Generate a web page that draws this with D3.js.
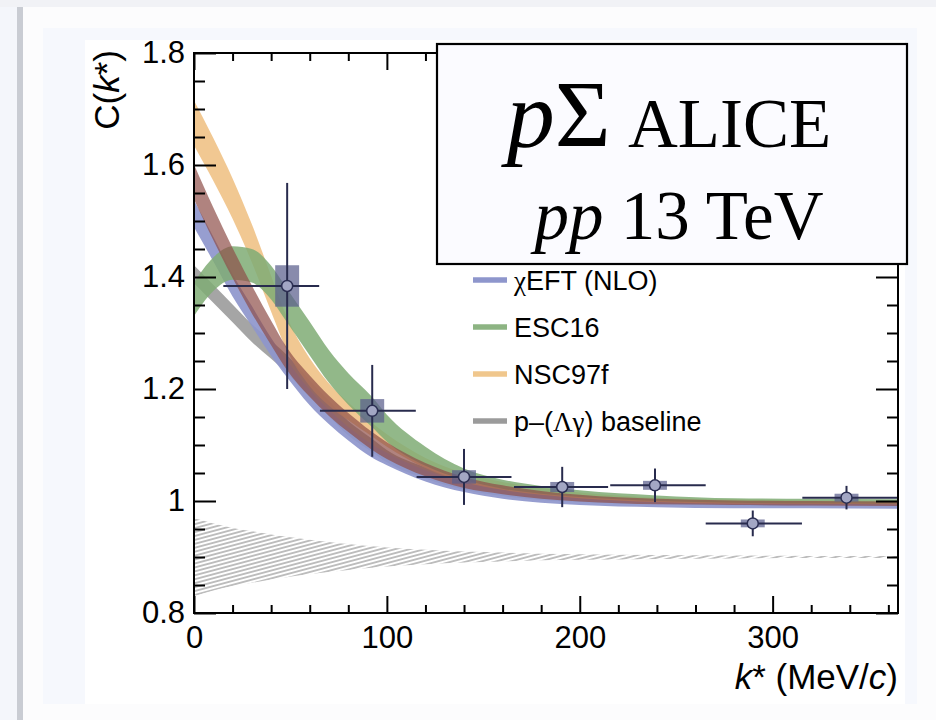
<!DOCTYPE html>
<html>
<head>
<meta charset="utf-8">
<script src="https://cdn.jsdelivr.net/npm/d3@7"></script>
<style>
  html, body { margin: 0; padding: 0; background: #fcfcfd; }
  svg { display: block; }
</style>
</head>
<body>
<script>

// DIMENSIONI
//
var width = 936;
var height = 720;
var sans = "'Liberation Sans', Arial, Helvetica, sans-serif";
var serif = "'Liberation Serif', 'Times New Roman', serif";

// PUNTI SPERIMENTALI p-Sigma
//
var kStar   = [48.3, 92.4, 140, 190.9, 239, 289.7, 338.3];
var kLow    = [15.2, 65.3, 115.4, 165.9, 215.8, 265.3, 315.4];
var kHigh   = [64.9, 115, 164.6, 214.7, 265.3, 315.2, 365];
var cValue  = [1.384, 1.161, 1.043, 1.025, 1.028, 0.960, 1.006];
var statErr = [0.184, 0.082, 0.050, 0.036, 0.030, 0.023, 0.021];
var sysErr  = [0.037, 0.021, 0.012, 0.009, 0.008, 0.007, 0.007];

// BANDE DEI MODELLI (centro e semi-larghezza)
//
var kGrid = [0, 10, 20, 30, 40, 48, 60, 70, 80, 92, 100, 120, 140, 160, 180, 200, 240, 280, 320, 365];

var baseMid  = [1.405, 1.37, 1.335, 1.30, 1.27, 1.245, 1.20, 1.165, 1.13, 1.10, 1.08, 1.05, 1.028, 1.016, 1.008, 1.003, 0.998, 0.996, 0.995, 0.995];
var baseHalf = [0.016, 0.016, 0.016, 0.016, 0.016, 0.016, 0.015, 0.014, 0.013, 0.012, 0.011, 0.01, 0.008, 0.007, 0.006, 0.005, 0.004, 0.004, 0.004, 0.004];

var blueMid  = [1.513, 1.45, 1.385, 1.33, 1.275, 1.237, 1.185, 1.15, 1.12, 1.09, 1.075, 1.045, 1.025, 1.012, 1.004, 0.999, 0.994, 0.992, 0.991, 0.990];
var blueHalf = [0.024, 0.022, 0.02, 0.018, 0.016, 0.015, 0.014, 0.013, 0.012, 0.012, 0.011, 0.01, 0.009, 0.008, 0.007, 0.006, 0.005, 0.005, 0.004, 0.004];

var orangeMid  = [1.675, 1.61, 1.54, 1.46, 1.37, 1.30, 1.23, 1.19, 1.16, 1.128, 1.108, 1.068, 1.042, 1.027, 1.017, 1.01, 1.002, 0.999, 0.998, 0.997];
var orangeHalf = [0.04, 0.038, 0.036, 0.034, 0.032, 0.03, 0.025, 0.02, 0.016, 0.012, 0.011, 0.009, 0.008, 0.007, 0.006, 0.005, 0.004, 0.004, 0.003, 0.003];

var greenMid  = [1.36, 1.405, 1.425, 1.42, 1.39, 1.35, 1.29, 1.24, 1.20, 1.16, 1.13, 1.08, 1.048, 1.03, 1.02, 1.013, 1.005, 1.001, 1.0, 0.999];
var greenHalf = [0.03, 0.03, 0.03, 0.03, 0.03, 0.03, 0.03, 0.029, 0.028, 0.027, 0.024, 0.017, 0.01, 0.008, 0.007, 0.006, 0.005, 0.004, 0.004, 0.004];

var brownMid  = [1.57, 1.495, 1.425, 1.36, 1.30, 1.255, 1.205, 1.17, 1.14, 1.108, 1.09, 1.056, 1.033, 1.02, 1.011, 1.005, 0.999, 0.997, 0.996, 0.995];
var brownHalf = [0.031, 0.029, 0.027, 0.025, 0.022, 0.02, 0.019, 0.018, 0.017, 0.016, 0.015, 0.012, 0.01, 0.008, 0.007, 0.006, 0.005, 0.004, 0.004, 0.004];

// BANDA TRATTEGGIATA IN BASSO
//
var hatchTop    = [0.969, 0.960, 0.952, 0.946, 0.940, 0.936, 0.931, 0.927, 0.923, 0.919, 0.917, 0.913, 0.910, 0.908, 0.906, 0.905, 0.9035, 0.9025, 0.902, 0.9018];
var hatchBottom = [0.830, 0.840, 0.848, 0.854, 0.860, 0.864, 0.869, 0.873, 0.877, 0.881, 0.883, 0.887, 0.890, 0.892, 0.894, 0.895, 0.8965, 0.8975, 0.898, 0.8982];

// ASSI
//
var xTicks = [0, 100, 200, 300];
var yTicks = [0.8, 1, 1.2, 1.4, 1.6, 1.8];

var legendLabels = ["\u03c7EFT (NLO)", "ESC16", "NSC97f", "p\u2013(\u039b\u03b3) baseline"];
var legendColors = ["#8e96cc", "#8db483", "#f0c78d", "#9b9b9b"];

var x = d3.scaleLinear().domain([0, 365]).range([194, 898]);
var y = d3.scaleLinear().domain([0.8, 1.8]).range([613, 53]);

var svg = d3.select("body").append("svg")
  .attr("width", width)
  .attr("height", height);

// CORNICE DELLA PAGINA
//
svg.append("rect").attr("x", 0).attr("y", 0).attr("width", width).attr("height", 7).attr("fill", "#f1f2f6");
svg.append("rect").attr("x", 0).attr("y", 7).attr("width", 17).attr("height", height).attr("fill", "#f4f6fb");
svg.append("rect").attr("x", 17).attr("y", 7).attr("width", 6).attr("height", height).attr("fill", "#c9ccd3");
svg.append("rect").attr("x", 43).attr("y", 28).attr("width", 874).attr("height", 676).attr("fill", "#f6f8fd");
svg.append("rect").attr("x", 85).attr("y", 40).attr("width", 820).attr("height", 664).attr("fill", "#ffffff");

var defs = svg.append("defs");
defs.append("clipPath").attr("id", "plotClip")
  .append("rect").attr("x", 194).attr("y", 53).attr("width", 704).attr("height", 560);

var hatch = defs.append("pattern")
  .attr("id", "hatch")
  .attr("patternUnits", "userSpaceOnUse")
  .attr("width", 12).attr("height", 3.8)
  .attr("patternTransform", "rotate(-15)");
hatch.append("line")
  .attr("x1", 0).attr("y1", 1.9).attr("x2", 12).attr("y2", 1.9)
  .attr("stroke", "#6e6e6e").attr("stroke-width", 0.9);

var plot = svg.append("g").attr("clip-path", "url(#plotClip)");

function bandArea(mid, half) {
  var rows = kGrid.map(function(k, i) { return { k: k, lo: mid[i] - half[i], hi: mid[i] + half[i] }; });
  return d3.area()
    .x(function(d) { return x(d.k); })
    .y0(function(d) { return y(d.lo); })
    .y1(function(d) { return y(d.hi); })
    .curve(d3.curveMonotoneX)(rows);
}

// BANDA TRATTEGGIATA
//
var hatchRows = kGrid.map(function(k, i) { return { k: k, lo: hatchBottom[i], hi: hatchTop[i] }; });
plot.append("path")
  .attr("d", d3.area()
    .x(function(d) { return x(d.k); })
    .y0(function(d) { return y(d.lo); })
    .y1(function(d) { return y(d.hi); })
    .curve(d3.curveMonotoneX)(hatchRows))
  .attr("fill", "url(#hatch)");

// BANDE
//
plot.append("path").attr("d", bandArea(baseMid, baseHalf)).attr("fill", "#9b9b9b").attr("opacity", 0.9);
plot.append("path").attr("d", bandArea(blueMid, blueHalf)).attr("fill", "#8e96cc").attr("opacity", 0.92);
plot.append("path").attr("d", bandArea(orangeMid, orangeHalf)).attr("fill", "#f0c286").attr("opacity", 0.9);
plot.append("path").attr("d", bandArea(greenMid, greenHalf)).attr("fill", "#7fab74").attr("opacity", 0.85);
plot.append("path").attr("d", bandArea(brownMid, brownHalf)).attr("fill", "#8f4f48").attr("opacity", 0.7);

// PUNTI CON ERRORI
//
var points = kStar.map(function(k, i) {
  return { k: k, lo: kLow[i], hi: kHigh[i], c: cValue[i], stat: statErr[i], sys: sysErr[i] };
});
var sysHalfWidth = 6.2;
var pts = plot.selectAll(".pt").data(points).enter().append("g").attr("class", "pt");

pts.append("rect")
  .attr("x", function(d) { return x(d.k - sysHalfWidth); })
  .attr("y", function(d) { return y(d.c + d.sys); })
  .attr("width", function(d) { return x(d.k + sysHalfWidth) - x(d.k - sysHalfWidth); })
  .attr("height", function(d) { return y(d.c - d.sys) - y(d.c + d.sys); })
  .attr("fill", "#5a5e8c").attr("opacity", 0.72);
pts.append("line")
  .attr("x1", function(d) { return x(d.lo); }).attr("x2", function(d) { return x(d.hi); })
  .attr("y1", function(d) { return y(d.c); }).attr("y2", function(d) { return y(d.c); })
  .attr("stroke", "#282b4d").attr("stroke-width", 2);
pts.append("line")
  .attr("x1", function(d) { return x(d.k); }).attr("x2", function(d) { return x(d.k); })
  .attr("y1", function(d) { return y(d.c - d.stat); }).attr("y2", function(d) { return y(d.c + d.stat); })
  .attr("stroke", "#282b4d").attr("stroke-width", 2);
pts.append("circle")
  .attr("cx", function(d) { return x(d.k); })
  .attr("cy", function(d) { return y(d.c); })
  .attr("r", 5.5)
  .attr("fill", "#a3a7c4").attr("stroke", "#2b2e52").attr("stroke-width", 1.5);

// ASSI CON TACCHE INTERNE SU QUATTRO LATI
//
var xMinor = d3.range(20, 365, 20).filter(function(v) { return v % 100 !== 0; });
var yMinor = d3.range(0.85, 1.8, 0.05).filter(function(v) { return Math.abs(v * 5 - Math.round(v * 5)) > 0.01; });

function drawAxis(axis, transform) {
  var g = svg.append("g").attr("transform", transform).call(axis);
  g.select(".domain").remove();
  g.selectAll(".tick line").attr("stroke", "#000").attr("stroke-width", 2);
  g.selectAll(".tick text").attr("fill", "#000").attr("font-size", 31).attr("font-family", sans);
  return g;
}
var noLabel = function() { return ""; };

drawAxis(d3.axisBottom(x).tickValues(xTicks).tickSize(-17).tickPadding(13).tickFormat(d3.format("d")), "translate(0,613)");
drawAxis(d3.axisBottom(x).tickValues(xMinor).tickSize(-8).tickFormat(noLabel), "translate(0,613)");
drawAxis(d3.axisTop(x).tickValues(xTicks).tickSize(-17).tickFormat(noLabel), "translate(0,53)");
drawAxis(d3.axisTop(x).tickValues(xMinor).tickSize(-8).tickFormat(noLabel), "translate(0,53)");
drawAxis(d3.axisLeft(y).tickValues(yTicks).tickSize(-22).tickPadding(9).tickFormat(function(d) { return String(+d.toFixed(1)); }), "translate(194,0)");
drawAxis(d3.axisLeft(y).tickValues(yMinor).tickSize(-11).tickFormat(noLabel), "translate(194,0)");
drawAxis(d3.axisRight(y).tickValues(yTicks).tickSize(-22).tickFormat(noLabel), "translate(898,0)");
drawAxis(d3.axisRight(y).tickValues(yMinor).tickSize(-11).tickFormat(noLabel), "translate(898,0)");

svg.append("rect")
  .attr("x", 194).attr("y", 53).attr("width", 704).attr("height", 560)
  .attr("fill", "none").attr("stroke", "#000").attr("stroke-width", 2);

// TITOLI DEGLI ASSI
//
var xTitle = svg.append("text")
  .attr("x", 898).attr("y", 689)
  .attr("text-anchor", "end")
  .attr("font-family", sans).attr("font-size", 35);
xTitle.append("tspan").attr("font-style", "italic").text("k");
xTitle.append("tspan").text("* (MeV/");
xTitle.append("tspan").attr("font-style", "italic").text("c");
xTitle.append("tspan").text(")");

var yTitle = svg.append("text")
  .attr("transform", "translate(119,50) rotate(-90)")
  .attr("text-anchor", "end")
  .attr("font-family", sans).attr("font-size", 35);
yTitle.append("tspan").text("C(");
yTitle.append("tspan").attr("font-style", "italic").text("k");
yTitle.append("tspan").text("*)");

// LEGENDA
//
var legendY = [280, 327, 374, 421];
var legend = svg.append("g");
legendLabels.forEach(function(label, i) {
  legend.append("line")
    .attr("x1", 473).attr("x2", 507)
    .attr("y1", legendY[i]).attr("y2", legendY[i])
    .attr("stroke", legendColors[i]).attr("stroke-width", 5.5);
  var t = legend.append("text")
    .attr("x", 514).attr("y", legendY[i] + 10)
    .attr("font-family", sans).attr("font-size", 27).attr("fill", "#000");
  // le lettere greche in serif
  label.split(/([\u0370-\u03ff]+)/).forEach(function(part) {
    if (!part) return;
    var s = t.append("tspan").text(part);
    if (/[\u0370-\u03ff]/.test(part)) s.attr("font-family", serif);
  });
});

// RIQUADRO pSigma ALICE
//
svg.append("rect")
  .attr("x", 437).attr("y", 44).attr("width", 470).attr("height", 220)
  .attr("fill", "#fbfbff").attr("stroke", "#000").attr("stroke-width", 2.2);

var line1 = svg.append("text")
  .attr("x", 669).attr("y", 147)
  .attr("text-anchor", "middle")
  .attr("font-family", serif).attr("fill", "#000");
line1.append("tspan").attr("font-size", 96).attr("font-style", "italic").text("p");
line1.append("tspan").attr("font-size", 96).text("\u03a3");
line1.append("tspan").attr("font-size", 69).text(" ALICE");

var line2 = svg.append("text")
  .attr("x", 679).attr("y", 239)
  .attr("text-anchor", "middle")
  .attr("font-family", serif).attr("font-size", 69).attr("fill", "#000");
line2.append("tspan").attr("font-style", "italic").text("pp");
line2.append("tspan").text(" 13 TeV");

</script>
</body>
</html>
